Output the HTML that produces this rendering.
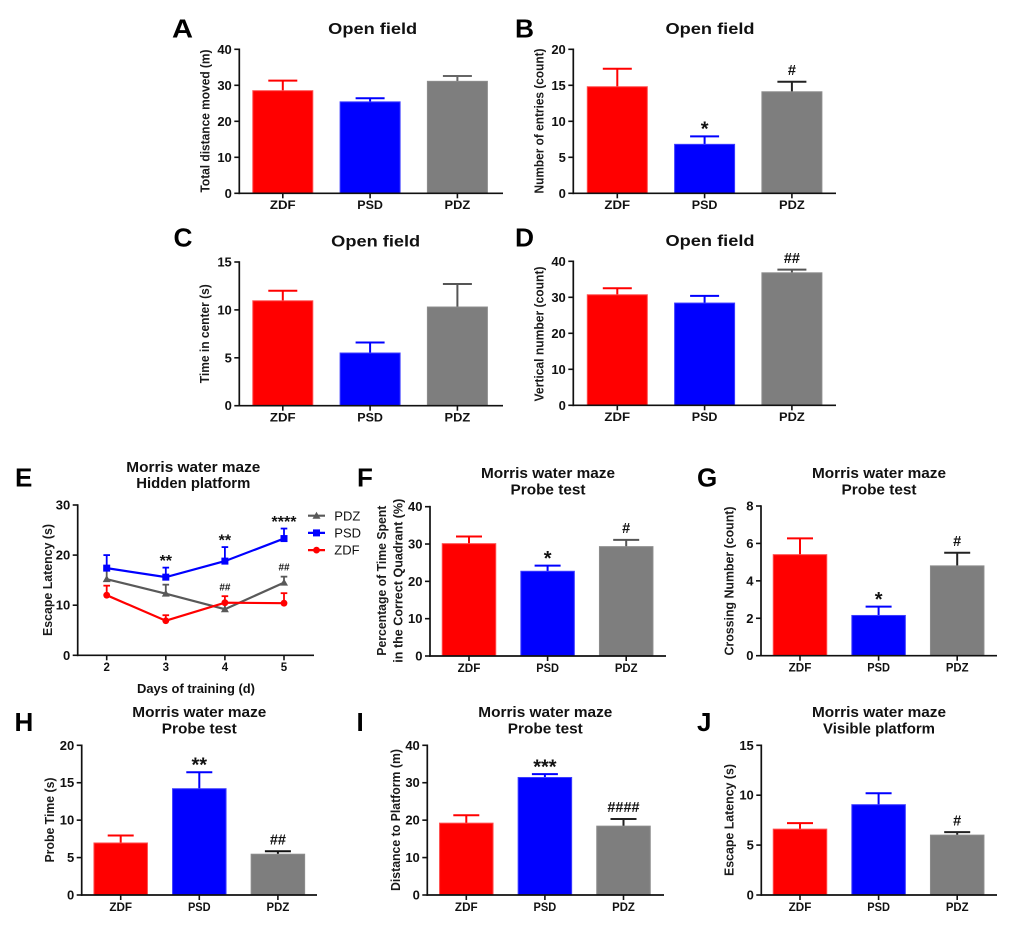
<!DOCTYPE html>
<html lang="en">
<head>
<meta charset="utf-8">
<title>Open field and Morris water maze results</title>
<style>
html,body{margin:0;padding:0;background:#fff;}
#figure{display:block;width:1020px;height:946px;}
text{font-family:"Liberation Sans",Arial,sans-serif;font-weight:bold;fill:#111;}
.letter{font-size:26px;fill:#000;}
.title{font-size:15px;text-anchor:middle;}
.ylab{font-size:13px;text-anchor:middle;fill:#1a1a1a;}
.legend-text{font-size:13px;font-weight:normal;}
</style>
</head>
<body>
<svg id="figure" xmlns="http://www.w3.org/2000/svg" width="1020" height="946" viewBox="0 0 1020 946">
<rect x="0" y="0" width="1020" height="946" fill="#fff"/>

<text class="letter" x="172" y="37.5" textLength="21" lengthAdjust="spacingAndGlyphs">A</text>
<text class="letter" x="515" y="37.5" textLength="19" lengthAdjust="spacingAndGlyphs">B</text>
<text class="letter" x="173.5" y="246.5" textLength="19" lengthAdjust="spacingAndGlyphs">C</text>
<text class="letter" x="515" y="246.5" textLength="19" lengthAdjust="spacingAndGlyphs">D</text>
<text class="letter" x="15" y="486.5">E</text>
<text class="letter" x="357" y="486.5">F</text>
<text class="letter" x="697" y="486.5">G</text>
<text class="letter" x="14.5" y="731">H</text>
<text class="letter" x="356.5" y="731">I</text>
<text class="letter" x="697" y="731">J</text>

<text class="title" style="font-size:16px" x="372.7" y="34" textLength="89" lengthAdjust="spacingAndGlyphs">Open field</text>
<text class="title" style="font-size:16px" x="710" y="34" textLength="89" lengthAdjust="spacingAndGlyphs">Open field</text>
<text class="title" style="font-size:16px" x="375.7" y="246.5" textLength="89" lengthAdjust="spacingAndGlyphs">Open field</text>
<text class="title" style="font-size:16px" x="710" y="246" textLength="89" lengthAdjust="spacingAndGlyphs">Open field</text>

<text class="title" x="193.3" y="472" textLength="134" lengthAdjust="spacingAndGlyphs">Morris water maze</text>
<text class="title" x="193.3" y="488" textLength="114" lengthAdjust="spacingAndGlyphs">Hidden platform</text>
<text class="title" x="548" y="478" textLength="134" lengthAdjust="spacingAndGlyphs">Morris water maze</text>
<text class="title" x="548" y="494.5" textLength="75" lengthAdjust="spacingAndGlyphs">Probe test</text>
<text class="title" x="879" y="478" textLength="134" lengthAdjust="spacingAndGlyphs">Morris water maze</text>
<text class="title" x="879" y="494.5" textLength="75" lengthAdjust="spacingAndGlyphs">Probe test</text>
<text class="title" x="199.3" y="717" textLength="134" lengthAdjust="spacingAndGlyphs">Morris water maze</text>
<text class="title" x="199.3" y="733.5" textLength="75" lengthAdjust="spacingAndGlyphs">Probe test</text>
<text class="title" x="545.3" y="717" textLength="134" lengthAdjust="spacingAndGlyphs">Morris water maze</text>
<text class="title" x="545.3" y="733.5" textLength="75" lengthAdjust="spacingAndGlyphs">Probe test</text>
<text class="title" x="879" y="717" textLength="134" lengthAdjust="spacingAndGlyphs">Morris water maze</text>
<text class="title" x="879" y="733.5" textLength="112" lengthAdjust="spacingAndGlyphs">Visible platform</text>

<text class="ylab" transform="translate(209.5 121) rotate(-90)" textLength="143" lengthAdjust="spacingAndGlyphs">Total distance moved (m)</text>
<text class="ylab" transform="translate(543.5 121) rotate(-90)" textLength="145" lengthAdjust="spacingAndGlyphs">Number of entries (count)</text>
<text class="ylab" transform="translate(209 333.7) rotate(-90)" textLength="99" lengthAdjust="spacingAndGlyphs">Time in center (s)</text>
<text class="ylab" transform="translate(543.5 334) rotate(-90)" textLength="135" lengthAdjust="spacingAndGlyphs">Vertical number (count)</text>
<text class="ylab" transform="translate(52 580) rotate(-90)" textLength="112" lengthAdjust="spacingAndGlyphs">Escape Latency (s)</text>
<text class="ylab" transform="translate(386 580.7) rotate(-90)" textLength="150" lengthAdjust="spacingAndGlyphs">Percentage of Time Spent</text>
<text class="ylab" transform="translate(402.5 580.7) rotate(-90)" textLength="164" lengthAdjust="spacingAndGlyphs">in the Correct Quadrant (%)</text>
<text class="ylab" transform="translate(733.5 581) rotate(-90)" textLength="149" lengthAdjust="spacingAndGlyphs">Crossing Number (count)</text>
<text class="ylab" transform="translate(54 820) rotate(-90)" textLength="85" lengthAdjust="spacingAndGlyphs">Probe Time (s)</text>
<text class="ylab" transform="translate(400 820) rotate(-90)" textLength="142" lengthAdjust="spacingAndGlyphs">Distance to Platform (m)</text>
<text class="ylab" transform="translate(733.5 820) rotate(-90)" textLength="112" lengthAdjust="spacingAndGlyphs">Escape Latency (s)</text>

<text class="title" style="font-size:12.5px" x="196" y="693" textLength="118" lengthAdjust="spacingAndGlyphs">Days of training (d)</text>
<g id="marks"></g>
</svg>

<script>
// Shared categories
const categories = ['ZDF', 'PSD', 'PDZ'];

// Panel A: total distance moved
const aValues = [28.5, 25.4, 31.1];
const aUpper = [31.3, 26.4, 32.6];
const aTicks = [0, 10, 20, 30, 40];
const aMarks = ['', '', ''];
// Panel B: number of entries
const bValues = [14.8, 6.8, 14.1];
const bUpper = [17.3, 7.9, 15.5];
const bTicks = [0, 5, 10, 15, 20];
const bMarks = ['', '*', '#'];
// Panel C: time in center
const cValues = [10.95, 5.5, 10.3];
const cUpper = [12, 6.6, 12.7];
const cTicks = [0, 5, 10, 15];
const cMarks = ['', '', ''];
// Panel D: vertical number
const dValues = [30.7, 28.4, 36.8];
const dUpper = [32.5, 30.4, 37.7];
const dTicks = [0, 10, 20, 30, 40];
const dMarks = ['', '', '##'];
// Panel F: time in correct quadrant
const fValues = [30.1, 22.7, 29.3];
const fUpper = [32, 24.2, 31.1];
const fTicks = [0, 10, 20, 30, 40];
const fMarks = ['', '*', '#'];
// Panel G: crossing number
const gValues = [5.4, 2.15, 4.8];
const gUpper = [6.27, 2.62, 5.5];
const gTicks = [0, 2, 4, 6, 8];
const gMarks = ['', '*', '#'];
// Panel H: probe time
const hValues = [6.95, 14.2, 5.45];
const hUpper = [7.95, 16.4, 5.85];
const hTicks = [0, 5, 10, 15, 20];
const hMarks = ['', '**', '##'];
// Panel I: distance to platform
const iValues = [19.2, 31.4, 18.4];
const iUpper = [21.3, 32.3, 20.3];
const iTicks = [0, 10, 20, 30, 40];
const iMarks = ['', '***', '####'];
// Panel J: visible platform escape latency
const jValues = [6.6, 9.05, 6.0];
const jUpper = [7.2, 10.2, 6.3];
const jTicks = [0, 5, 10, 15];
const jMarks = ['', '', '#'];

// Panel E: hidden platform line chart
const eDays = [2, 3, 4, 5];
const eTicks = [0, 10, 20, 30];
const ePdz = [15.2, 12.3, 9.2, 14.5];
const ePdzUpper = [17.2, 14.1, 10.5, 15.7];
const ePsd = [17.4, 15.6, 18.8, 23.3];
const ePsdUpper = [20, 17.5, 21.6, 25.3];
const eZdf = [12, 6.9, 10.5, 10.4];
const eZdfUpper = [13.9, 8, 11.8, 12.4];
const eStarMarks = ['', '**', '**', '****'];
const eHashMarks = ['', '', '##', '##'];

const SVG_NS = 'http://www.w3.org/2000/svg';
const root = document.getElementById('marks');
const FILLS = ['#ff0000', '#0000ff', '#7e7e7e'];
const EDGES = ['#ff4d4d', '#3d3dff', '#8c8c8c'];

function make(tag, attrs, parent) {
  const el = document.createElementNS(SVG_NS, tag);
  Object.keys(attrs).forEach(function (k) { el.setAttribute(k, attrs[k]); });
  parent.appendChild(el);
  return el;
}

function linearY(layout) {
  return function (v) {
    return layout.y0 - v / layout.yMax * (layout.y0 - layout.yTop);
  };
}

function drawYAxis(g, layout, ticks, yOf, id) {
  const axis = make('line', {x1: layout.axisX, x2: layout.axisX, y1: layout.yTop - 0.8, y2: layout.y0 + 0.8, stroke: '#111', 'stroke-width': 1.7}, g);
  
  
  ticks.forEach(function (t) {
    const y = yOf(t);
    const tick = make('line', {x1: layout.axisX - 5, x2: layout.axisX, y1: y, y2: y, stroke: '#111', 'stroke-width': 1.6}, g);
    
    
    const label = make('text', {x: layout.axisX - 7.5, y: y + 4.5, 'text-anchor': 'end', 'font-size': 13}, g);
    label.textContent = String(t);
    
    
  });
}

function drawXAxis(g, layout, id) {
  const axis = make('line', {x1: layout.axisX - 0.8, x2: layout.xEnd, y1: layout.y0, y2: layout.y0, stroke: '#111', 'stroke-width': 1.7}, g);
  
  
}

function drawXTick(g, layout, x, text, id, labelWidth) {
  const tick = make('line', {x1: x, x2: x, y1: layout.y0, y2: layout.y0 + 5, stroke: '#111', 'stroke-width': 1.6}, g);
  
  
  const attrs = {x: x, y: layout.y0 + 15.8, 'text-anchor': 'middle', 'font-size': 11.5};
  if (labelWidth) {
    attrs.textLength = labelWidth;
    attrs.lengthAdjust = 'spacingAndGlyphs';
  }
  const label = make('text', attrs, g);
  label.textContent = text;
  
  
}

function drawAnnotation(g, x, cy, text, starSize, hashSize, id) {
  const isStar = text.charAt(0) === '*';
  const size = isStar ? starSize : hashSize;
  const offset = isStar ? size * 0.56 : size * 0.36;
  const note = make('text', {x: x, y: cy + offset, 'text-anchor': 'middle', 'font-size': size}, g);
  note.textContent = text;
  
  
}

function drawBarChart(id, layout, values, upper, ticks, marks) {
  const g = make('g', {}, root);
  
  
  const yOf = linearY(layout);
  const xOf = function (i) { return layout.first + i * layout.step; };
  categories.forEach(function (cat, i) {
    const cx = xOf(i);
    const errColor = i === 2 ? layout.pdzError : FILLS[i];
    const yVal = yOf(values[i]);
    const yUp = yOf(upper[i]);
    const stem = make('line', {x1: cx, x2: cx, y1: yVal, y2: yUp, stroke: errColor, 'stroke-width': 2}, g);
    
    
    const cap = make('line', {x1: cx - layout.cap / 2, x2: cx + layout.cap / 2, y1: yUp, y2: yUp, stroke: errColor, 'stroke-width': 2}, g);
    
    
    const bar = make('rect', {x: cx - layout.barW / 2, y: yVal, width: layout.barW, height: layout.y0 - yVal, fill: FILLS[i], stroke: EDGES[i], 'stroke-width': 1}, g);
    
    
    drawXTick(g, layout, cx, cat, id, layout.labelW);
    if (marks[i]) {
      drawAnnotation(g, cx, yUp - 12, marks[i], 20, 14.5, id);
    }
  });
  drawXAxis(g, layout, id);
  drawYAxis(g, layout, ticks, yOf, id);
}

function drawLineSeries(g, name, values, upper, color, marker, xOf, yOf) {
  const s = make('g', {}, g);
  
  
  values.forEach(function (v, i) {
    const x = xOf(i);
    const stem = make('line', {x1: x, x2: x, y1: yOf(v), y2: yOf(upper[i]), stroke: color, 'stroke-width': 1.8}, s);
    
    
    const cap = make('line', {x1: x - 3.3, x2: x + 3.3, y1: yOf(upper[i]), y2: yOf(upper[i]), stroke: color, 'stroke-width': 1.8}, s);
    
    
  });
  const pts = values.map(function (v, i) { return xOf(i) + ',' + yOf(v); }).join(' ');
  const line = make('polyline', {points: pts, fill: 'none', stroke: color, 'stroke-width': 2.2}, s);
  
  
  values.forEach(function (v, i) {
    const m = drawMarker(s, marker, xOf(i), yOf(v), color);
    
    
  });
}

function drawMarker(parent, marker, x, y, color) {
  if (marker === 'square') {
    return make('rect', {x: x - 3.5, y: y - 3.5, width: 7, height: 7, fill: color}, parent);
  }
  if (marker === 'triangle') {
    return make('polygon', {points: (x - 4) + ',' + (y + 3) + ' ' + (x + 4) + ',' + (y + 3) + ' ' + x + ',' + (y - 4), fill: color}, parent);
  }
  return make('circle', {cx: x, cy: y, r: 3.4, fill: color}, parent);
}

function drawLineChart() {
  const layout = {axisX: 77.7, xEnd: 314, y0: 655.3, yTop: 505, yMax: 30, first: 106.7, step: 59.1};
  const g = make('g', {}, root);
  
  
  const yOf = linearY(layout);
  const xOf = function (i) { return layout.first + i * layout.step; };
  drawXAxis(g, layout, 'e');
  drawYAxis(g, layout, eTicks, yOf, 'e');
  eDays.forEach(function (d, i) {
    drawXTick(g, layout, xOf(i), String(d), 'e');
  });
  drawLineSeries(g, 'pdz', ePdz, ePdzUpper, '#595959', 'triangle', xOf, yOf);
  drawLineSeries(g, 'psd', ePsd, ePsdUpper, '#0000ff', 'square', xOf, yOf);
  drawLineSeries(g, 'zdf', eZdf, eZdfUpper, '#ff0000', 'circle', xOf, yOf);
  eDays.forEach(function (d, i) {
    if (eStarMarks[i]) {
      drawAnnotation(g, xOf(i), yOf(ePsdUpper[i]) - 10.5, eStarMarks[i], 16, 10, 'e');
    }
    if (eHashMarks[i]) {
      drawAnnotation(g, xOf(i), yOf(Math.max(ePdzUpper[i], eZdfUpper[i])) - 9.5, eHashMarks[i], 16, 10, 'e');
    }
  });
  const legendNames = ['PDZ', 'PSD', 'ZDF'];
  const legendColors = ['#595959', '#0000ff', '#ff0000'];
  const legendMarkers = ['triangle', 'square', 'circle'];
  legendNames.forEach(function (nm, i) {
    const y = 515.7 + i * 17.2;
    const entry = make('g', {}, g);
    
    
    const swatch = make('line', {x1: 308, x2: 325, y1: y, y2: y, stroke: legendColors[i], 'stroke-width': 2.2}, entry);
    
    
    const m = drawMarker(entry, legendMarkers[i], 316.5, y, legendColors[i]);
    
    
    const t = make('text', {x: 334.3, y: y + 4.6, class: 'legend-text'}, entry);
    t.textContent = nm;
    
    
  });
}

const topBar = {barW: 60, cap: 29, step: 87.3, labelW: 25.7};
const lowBar = {barW: 53.5, cap: 26, step: 78.6, labelW: 22.7};

drawBarChart('a', Object.assign({}, topBar, {axisX: 239.3, xEnd: 503, first: 282.8, y0: 193.3, yTop: 49.3, yMax: 40, pdzError: '#666'}), aValues, aUpper, aTicks, aMarks);
drawBarChart('b', Object.assign({}, topBar, {axisX: 573.3, xEnd: 836, first: 617.3, y0: 193.3, yTop: 49.3, yMax: 20, pdzError: '#222'}), bValues, bUpper, bTicks, bMarks);
drawBarChart('c', Object.assign({}, topBar, {axisX: 239.3, xEnd: 503, first: 282.8, y0: 405.7, yTop: 262, yMax: 15, pdzError: '#555'}), cValues, cUpper, cTicks, cMarks);
drawBarChart('d', Object.assign({}, topBar, {axisX: 573.3, xEnd: 836, first: 617.3, y0: 405.3, yTop: 261.3, yMax: 40, pdzError: '#555'}), dValues, dUpper, dTicks, dMarks);
drawLineChart();
drawBarChart('f', Object.assign({}, lowBar, {axisX: 430, xEnd: 666, first: 469, y0: 656, yTop: 506.7, yMax: 40, pdzError: '#555'}), fValues, fUpper, fTicks, fMarks);
drawBarChart('g', Object.assign({}, lowBar, {axisX: 761, xEnd: 997, first: 800, y0: 655.7, yTop: 506, yMax: 8, pdzError: '#222'}), gValues, gUpper, gTicks, gMarks);
drawBarChart('h', Object.assign({}, lowBar, {axisX: 81.7, xEnd: 317, first: 120.7, y0: 895, yTop: 745.3, yMax: 20, pdzError: '#111'}), hValues, hUpper, hTicks, hMarks);
drawBarChart('i', Object.assign({}, lowBar, {axisX: 427.3, xEnd: 664, first: 466.3, y0: 895, yTop: 745.3, yMax: 40, pdzError: '#222'}), iValues, iUpper, iTicks, iMarks);
drawBarChart('j', Object.assign({}, lowBar, {axisX: 761.3, xEnd: 997, first: 800, y0: 895, yTop: 745.3, yMax: 15, pdzError: '#222'}), jValues, jUpper, jTicks, jMarks);
</script>
</body>
</html>
